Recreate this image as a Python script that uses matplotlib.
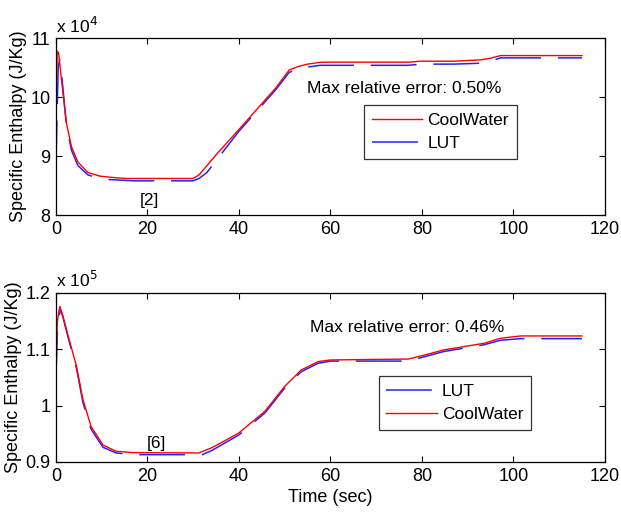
import matplotlib
matplotlib.use("Agg")
import matplotlib.pyplot as plt
from matplotlib.ticker import FuncFormatter

plt.rcParams['font.family'] = ['Liberation Sans', 'DejaVu Sans']

# ---- Data (J/Kg) ----
t_cw1 = [0, 0.3, 0.6, 1.0, 2.3, 3.4, 4.8, 7, 9.6, 12, 15, 30, 31.3, 35, 40, 44, 48, 51, 53,
         55, 57.7, 60, 77.4, 79.6, 87, 92.8, 95, 97.2, 115]
h_cw1 = [9.84e4, 10.78e4, 10.75e4, 10.45e4, 9.56e4, 9.16e4, 8.90e4, 8.72e4, 8.66e4, 8.64e4,
         8.62e4, 8.62e4, 8.68e4, 9.02e4, 9.45e4, 9.80e4, 10.15e4, 10.46e4, 10.52e4, 10.56e4,
         10.59e4, 10.594e4, 10.594e4, 10.61e4, 10.61e4, 10.632e4, 10.66e4, 10.705e4, 10.705e4]
t_lut1 = [0, 0.5, 0.8, 1.3, 2.3, 3.4, 4.8, 7, 9.6, 12, 17, 30, 31.3, 33, 40, 48, 51, 53.3,
          57.7, 77, 80, 87, 92.8, 95, 97.2, 115]
h_lut1 = [8.82e4, 10.50e4, 10.64e4, 10.35e4, 9.52e4, 9.10e4, 8.84e4, 8.68e4, 8.62e4, 8.60e4,
          8.58e4, 8.58e4, 8.62e4, 8.72e4, 9.42e4, 10.12e4, 10.42e4, 10.49e4, 10.54e4, 10.54e4,
          10.56e4, 10.56e4, 10.575e4, 10.61e4, 10.666e4, 10.666e4]

t_cw2 = [0, 0.3, 0.6, 0.87, 1.5, 2.7, 4.5, 5.9, 7.7, 10.3, 13.2, 16.8, 31.2, 34, 37, 40,
         45.7, 50, 53.6, 57.3, 60, 77, 79.3, 84.8, 93.6, 97.2, 101.6, 115]
h_cw2 = [1.040e5, 1.147e5, 1.165e5, 1.176e5, 1.160e5, 1.123e5, 1.070e5, 1.011e5, 0.963e5,
         0.930e5, 0.919e5, 0.9166e5, 0.916e5, 0.925e5, 0.938e5, 0.9515e5, 0.990e5, 1.034e5,
         1.063e5, 1.078e5, 1.081e5, 1.0826e5, 1.087e5, 1.0988e5, 1.1106e5, 1.1195e5,
         1.1236e5, 1.1236e5]
t_lut2 = [0, 0.4, 1.0, 1.5, 2.7, 4.5, 5.9, 7.7, 10.3, 13.2, 16.8, 32, 34, 40, 45.7, 50,
          53.6, 57.3, 60, 77, 79.3, 84.8, 93.6, 97.2, 101.6, 115]
h_lut2 = [1.05e5, 1.15e5, 1.170e5, 1.158e5, 1.120e5, 1.066e5, 1.006e5, 0.958e5, 0.926e5,
          0.916e5, 0.913e5, 0.913e5, 0.920e5, 0.948e5, 0.987e5, 1.031e5, 1.060e5, 1.075e5,
          1.079e5, 1.079e5, 1.084e5, 1.096e5, 1.108e5, 1.116e5, 1.1188e5, 1.1188e5]

x_ticks = [0, 20, 40, 60, 80, 100, 120]
err_text1 = "Max relative error: 0.50%"
err_text2 = "Max relative error: 0.46%"

FS = 12.5
fig = plt.figure(figsize=(6.21, 5.14), dpi=100)
ax1 = fig.add_axes([0.090, 0.5817, 0.884, 0.344])
ax2 = fig.add_axes([0.090, 0.1012, 0.884, 0.329])

blue = '#2222ff'
red = '#ff0000'
dash = (0, (30, 11))

def style(ax, scale, ylim, yticks, exp):
    ax.set_xlim(0, 120)
    ax.set_xticks(x_ticks)
    ax.set_ylim(*ylim)
    ax.set_yticks(yticks)
    ax.yaxis.set_major_formatter(FuncFormatter(lambda v, p: '%g' % round(v / scale, 3)))
    ax.tick_params(direction='in', top=True, right=True, length=4, width=0.8,
                   labelsize=FS + 0.5, pad=4)
    for s in ax.spines.values():
        s.set_linewidth(0.9)
    ax.set_ylabel('Specific Enthalpy (J/Kg)', fontsize=FS + 0.5, labelpad=2)
    ax.text(0.0, 1.015, r'x 10$^{%d}$' % exp, transform=ax.transAxes, fontsize=FS,
            ha='left', va='bottom')

leg_kw = dict(loc='upper left', fontsize=FS, frameon=True, fancybox=False,
              edgecolor='black', handlelength=2.9, borderpad=0.45, labelspacing=0.45,
              handletextpad=0.3, borderaxespad=0)

# top
l_lut1, = ax1.plot(t_lut1, h_lut1, color=blue, lw=1.1, linestyle=dash, label='LUT')
l_cw1, = ax1.plot(t_cw1, h_cw1, color=red, lw=1.0, label='CoolWater')
style(ax1, 1e4, (8e4, 11e4), [8e4, 9e4, 10e4, 11e4], 4)
ax1.text(54.9, 10.14e4, err_text1, fontsize=FS, va='center', ha='left')
ax1.text(20.5, 8.25e4, '[2]', fontsize=FS, va='center', ha='center')
leg1 = ax1.legend([l_cw1, l_lut1], ['CoolWater', 'LUT'],
                  bbox_to_anchor=(0.561, 0.621), **leg_kw)
leg1.get_frame().set_linewidth(0.9)

# bottom
l_lut2, = ax2.plot(t_lut2, h_lut2, color=blue, lw=1.1, linestyle=dash, label='LUT')
l_cw2, = ax2.plot(t_cw2, h_cw2, color=red, lw=1.0, label='CoolWater')
style(ax2, 1e5, (0.9e5, 1.2e5), [0.9e5, 1.0e5, 1.1e5, 1.2e5], 5)
ax2.text(55.5, 1.138e5, err_text2, fontsize=FS, va='center', ha='left')
ax2.text(21.9, 0.933e5, '[6]', fontsize=FS, va='center', ha='center')
leg2 = ax2.legend([l_lut2, l_cw2], ['LUT', 'CoolWater'],
                  bbox_to_anchor=(0.588, 0.509), **leg_kw)
leg2.get_frame().set_linewidth(0.9)
ax2.set_xlabel('Time (sec)', fontsize=FS + 0.5, labelpad=3)

fig.savefig('out.png', dpi=100)
